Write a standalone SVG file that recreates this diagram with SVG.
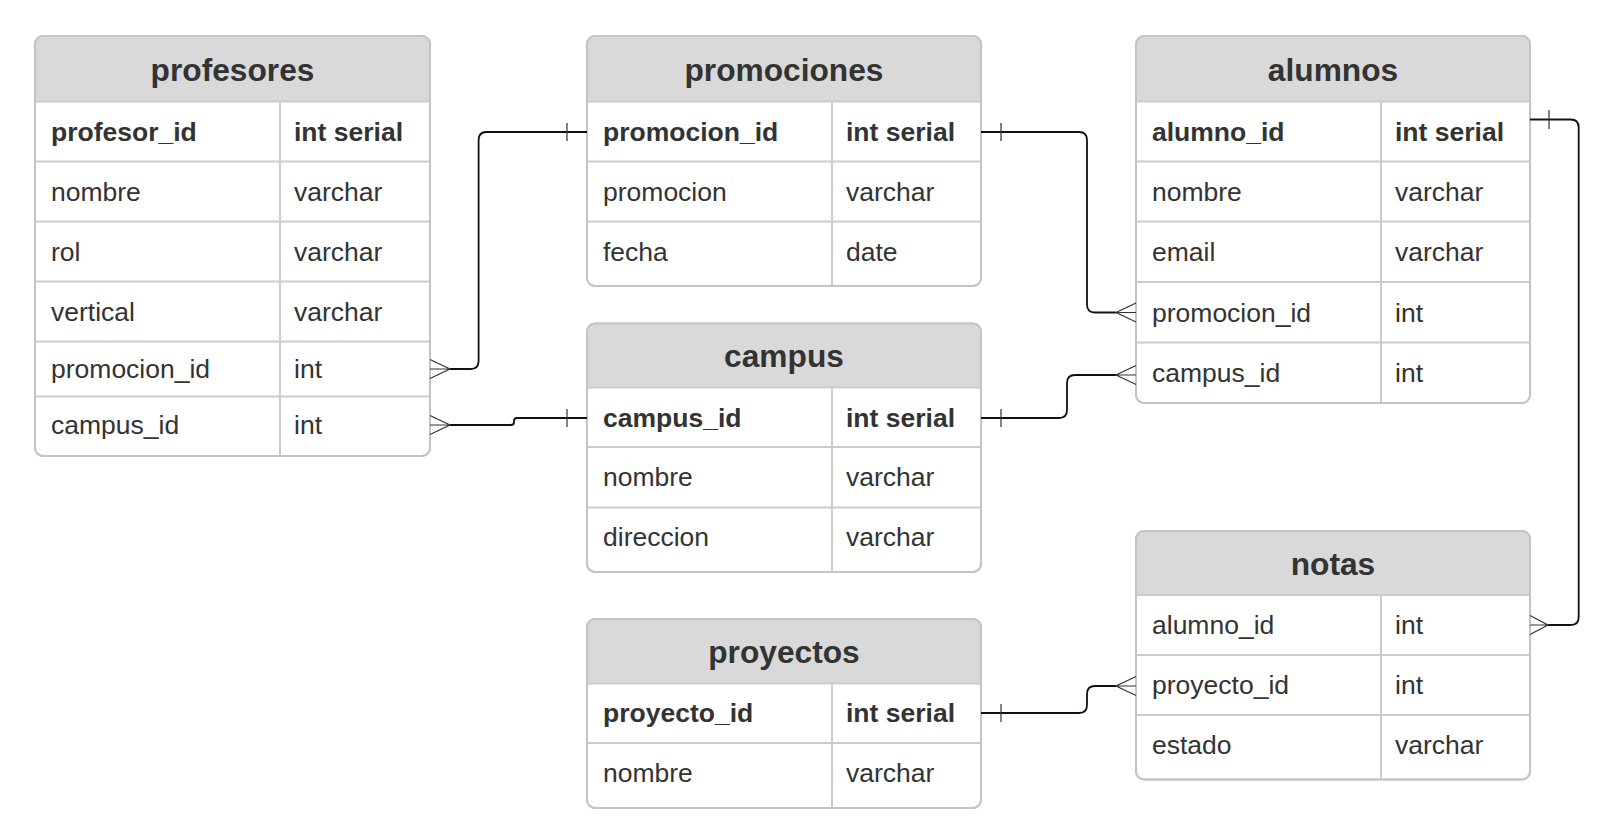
<svg xmlns="http://www.w3.org/2000/svg" width="1620" height="823" viewBox="0 0 1620 823">
<style>
.bg{fill:#ffffff}
.box{fill:#ffffff;stroke:#c8c8c8;stroke-width:2}
.hdr{fill:#d9d9d9}
.ln{stroke:#cccccc;stroke-width:2;fill:none}
.frame{fill:none;stroke:#c4c4c4;stroke-width:2}
.title{font-family:"Liberation Sans",Arial,sans-serif;font-weight:bold;font-size:31.7px;fill:#333333;text-anchor:middle}
.t{font-family:"Liberation Sans",Arial,sans-serif;font-size:26.5px;fill:#333333}
.b{font-weight:bold}
.con{fill:none;stroke:#111111;stroke-width:1.8}
.mk{fill:none;stroke:#333333;stroke-width:1.2}
</style>
<rect class="bg" x="0" y="0" width="1620" height="823"/>

<g id="profesores">
<rect class="box" x="35" y="36" width="395" height="420" rx="8"/>
<path class="hdr" d="M35,101.5 V44 Q35,36 43,36 H422 Q430,36 430,44 V101.5 Z"/>
<path class="ln" d="M35,101.5 H430 M35,161.5 H430 M35,221.5 H430 M35,281.5 H430 M35,341.5 H430 M35,396.5 H430 M280,101.5 V456"/>
<rect class="frame" x="35" y="36" width="395" height="420" rx="8"/>
<text class="title" x="232.5" y="80.5">profesores</text>
<text class="t b" x="51" y="140.5">profesor_id</text><text class="t b" x="294" y="140.5">int serial</text>
<text class="t" x="51" y="200.5">nombre</text><text class="t" x="294" y="200.5">varchar</text>
<text class="t" x="51" y="260.5">rol</text><text class="t" x="294" y="260.5">varchar</text>
<text class="t" x="51" y="320.5">vertical</text><text class="t" x="294" y="320.5">varchar</text>
<text class="t" x="51" y="378">promocion_id</text><text class="t" x="294" y="378">int</text>
<text class="t" x="51" y="434">campus_id</text><text class="t" x="294" y="434">int</text>
</g>

<g id="promociones">
<rect class="box" x="587" y="36" width="394" height="250" rx="8"/>
<path class="hdr" d="M587,101.5 V44 Q587,36 595,36 H973 Q981,36 981,44 V101.5 Z"/>
<path class="ln" d="M587,101.5 H981 M587,161.5 H981 M587,221.5 H981 M832,101.5 V286"/>
<rect class="frame" x="587" y="36" width="394" height="250" rx="8"/>
<text class="title" x="784" y="80.5">promociones</text>
<text class="t b" x="603" y="140.5">promocion_id</text><text class="t b" x="846" y="140.5">int serial</text>
<text class="t" x="603" y="200.5">promocion</text><text class="t" x="846" y="200.5">varchar</text>
<text class="t" x="603" y="260.5">fecha</text><text class="t" x="846" y="260.5">date</text>
</g>

<g id="campus">
<rect class="box" x="587" y="323.5" width="394" height="248.5" rx="8"/>
<path class="hdr" d="M587,387.5 V331.5 Q587,323.5 595,323.5 H973 Q981,323.5 981,331.5 V387.5 Z"/>
<path class="ln" d="M587,387.5 H981 M587,447 H981 M587,507.5 H981 M832,387.5 V572"/>
<rect class="frame" x="587" y="323.5" width="394" height="248.5" rx="8"/>
<text class="title" x="784" y="367">campus</text>
<text class="t b" x="603" y="426.5">campus_id</text><text class="t b" x="846" y="426.5">int serial</text>
<text class="t" x="603" y="486">nombre</text><text class="t" x="846" y="486">varchar</text>
<text class="t" x="603" y="546">direccion</text><text class="t" x="846" y="546">varchar</text>
</g>

<g id="proyectos">
<rect class="box" x="587" y="619" width="394" height="189" rx="8"/>
<path class="hdr" d="M587,683.5 V627 Q587,619 595,619 H973 Q981,619 981,627 V683.5 Z"/>
<path class="ln" d="M587,683.5 H981 M587,743 H981 M832,683.5 V808"/>
<rect class="frame" x="587" y="619" width="394" height="189" rx="8"/>
<text class="title" x="784" y="662.5">proyectos</text>
<text class="t b" x="603" y="722">proyecto_id</text><text class="t b" x="846" y="722">int serial</text>
<text class="t" x="603" y="782">nombre</text><text class="t" x="846" y="782">varchar</text>
</g>

<g id="alumnos">
<rect class="box" x="1136" y="36" width="394" height="367" rx="8"/>
<path class="hdr" d="M1136,101.5 V44 Q1136,36 1144,36 H1522 Q1530,36 1530,44 V101.5 Z"/>
<path class="ln" d="M1136,101.5 H1530 M1136,161.5 H1530 M1136,221.5 H1530 M1136,282 H1530 M1136,342.5 H1530 M1381,101.5 V403"/>
<rect class="frame" x="1136" y="36" width="394" height="367" rx="8"/>
<text class="title" x="1333" y="80.5">alumnos</text>
<text class="t b" x="1152" y="140.5">alumno_id</text><text class="t b" x="1395" y="140.5">int serial</text>
<text class="t" x="1152" y="200.5">nombre</text><text class="t" x="1395" y="200.5">varchar</text>
<text class="t" x="1152" y="261">email</text><text class="t" x="1395" y="261">varchar</text>
<text class="t" x="1152" y="321.5">promocion_id</text><text class="t" x="1395" y="321.5">int</text>
<text class="t" x="1152" y="381.5">campus_id</text><text class="t" x="1395" y="381.5">int</text>
</g>

<g id="notas">
<rect class="box" x="1136" y="531" width="394" height="248.5" rx="8"/>
<path class="hdr" d="M1136,595 V539 Q1136,531 1144,531 H1522 Q1530,531 1530,539 V595 Z"/>
<path class="ln" d="M1136,595 H1530 M1136,655 H1530 M1136,715 H1530 M1381,595 V779.5"/>
<rect class="frame" x="1136" y="531" width="394" height="248.5" rx="8"/>
<text class="title" x="1333" y="574.5">notas</text>
<text class="t" x="1152" y="634">alumno_id</text><text class="t" x="1395" y="634">int</text>
<text class="t" x="1152" y="694">proyecto_id</text><text class="t" x="1395" y="694">int</text>
<text class="t" x="1152" y="754">estado</text><text class="t" x="1395" y="754">varchar</text>
</g>

<g id="connectors">
<path class="con" d="M450,369 H470.6 Q478.6,369 478.6,361 V140 Q478.6,132 486.6,132 H587"/>
<path class="mk" d="M430,369 H450 M430,359.5 L450,369 L430,378.5 M567,123 V141"/>
<path class="con" d="M450,425 H511 Q514,425 514,422 V421 Q514,418 517,418 H587"/>
<path class="mk" d="M430,425 H450 M430,415.5 L450,425 L430,434.5 M567,409 V427"/>
<path class="con" d="M981,132 H1079 Q1087,132 1087,140 V304.5 Q1087,312.5 1095,312.5 H1116"/>
<path class="mk" d="M1001,123 V141 M1116,312.5 H1136 M1136,303 L1116,312.5 L1136,322"/>
<path class="con" d="M981,418 H1059 Q1067,418 1067,410 V383 Q1067,375 1075,375 H1116"/>
<path class="mk" d="M1001,409 V427 M1116,375 H1136 M1136,365.5 L1116,375 L1136,384.5"/>
<path class="con" d="M1530,119.5 H1570.7 Q1578.7,119.5 1578.7,127.5 V617 Q1578.7,625 1570.7,625 H1548"/>
<path class="mk" d="M1549,110 V129 M1548,625 H1530 M1530,615.5 L1548,625 L1530,634.5"/>
<path class="con" d="M981,713 H1079 Q1087,713 1087,705 V694 Q1087,686 1095,686 H1116"/>
<path class="mk" d="M1001,704 V722 M1116,686 H1136 M1136,676.5 L1116,686 L1136,695.5"/>
</g>
</svg>
